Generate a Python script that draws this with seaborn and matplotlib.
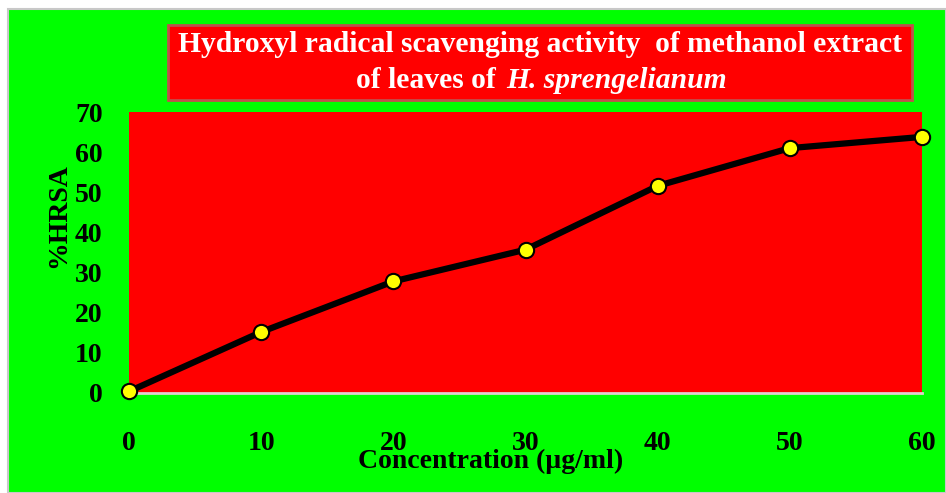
import matplotlib
matplotlib.use("Agg")
import matplotlib.pyplot as plt
import seaborn as sns
from matplotlib.patches import Rectangle

# data
conc = [0, 10, 20, 30, 40, 50, 60]
hrsa = [0.4, 15.2, 27.8, 35.7, 51.6, 61.0, 63.8]
xticks = [0, 10, 20, 30, 40, 50, 60]
yticks = [0, 10, 20, 30, 40, 50, 60, 70]

sns.set_style("white")
plt.rcParams['font.family'] = ['Liberation Serif', 'DejaVu Serif']
plt.rcParams['font.weight'] = 'bold'
plt.rcParams['text.color'] = 'black'
plt.rcParams['axes.labelcolor'] = 'black'
plt.rcParams['xtick.color'] = 'black'
plt.rcParams['ytick.color'] = 'black'

fig = plt.figure(figsize=(9.46, 4.93), dpi=100, facecolor='white')

# green chart area with thin grey frame (behind the axes)
fig.patches.append(Rectangle((8 / 946, 0), 1 - 8 / 946, 1 - 9 / 493,
                             transform=fig.transFigure, facecolor='#00ff00',
                             edgecolor='#c8c8c8', linewidth=1.5, zorder=-10))

ax = fig.add_axes([129 / 946, 1 - 393 / 493, 793 / 946, 281 / 493])
ax.set_facecolor('#ff0000')

sns.lineplot(x=conc, y=hrsa, ax=ax, color='black', linewidth=4.5,
             marker='o', markersize=11, markerfacecolor='#ffff00',
             markeredgecolor='black', markeredgewidth=1.5, clip_on=False,
             zorder=5)

ax.set_xlim(0, 60)
ax.set_ylim(0, 70)
ax.set_xticks(xticks)
ax.set_yticks(yticks)
ax.tick_params(axis='both', length=0, labelsize=20, labelcolor='black')
ax.tick_params(axis='x', pad=27)
ax.tick_params(axis='y', pad=19)

for s in ['top', 'right', 'left']:
    ax.spines[s].set_visible(False)
ax.spines['bottom'].set_color('#e0d0d0')
ax.spines['bottom'].set_linewidth(2)

ax.set_xlabel('Concentration (µg/ml)', fontsize=20, fontweight='bold',
              color='black')
ax.set_ylabel('%HRSA', fontsize=20, fontweight='bold', color='black')
ax.xaxis.set_label_coords(0.456, -0.2)
ax.yaxis.set_label_coords(-0.073, 0.63)

# title box
fig.patches.append(Rectangle((168 / 946, 1 - 100 / 493), 744 / 946, 75 / 493,
                             transform=fig.transFigure, facecolor='#ff0000',
                             edgecolor='#c0504d', linewidth=2, zorder=1))
fig.text(540 / 946, 1 - 45 / 493,
         'Hydroxyl radical scavenging activity  of methanol extract',
         ha='center', va='center', color='white', fontsize=21.3,
         fontweight='bold', zorder=2)
fig.text(496 / 946, 1 - 80 / 493, 'of leaves of',
         ha='right', va='center', color='white', fontsize=21.3,
         fontweight='bold', zorder=2)
fig.text(506 / 946, 1 - 80 / 493, 'H. sprengelianum',
         ha='left', va='center', color='white', fontsize=21.3,
         fontweight='bold', fontstyle='italic', zorder=2)

fig.savefig('out.png', dpi=100, facecolor=fig.get_facecolor())
